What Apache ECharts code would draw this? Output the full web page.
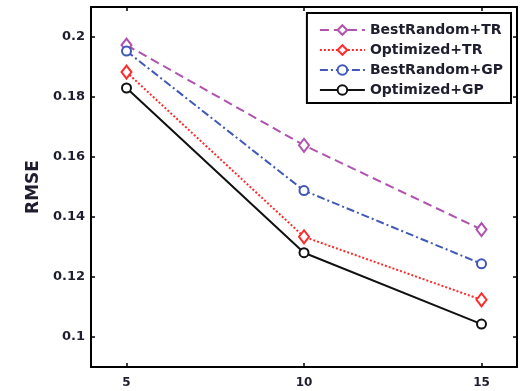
<!DOCTYPE html>
<html>
<head>
<meta charset="utf-8">
<script src="https://cdn.jsdelivr.net/npm/echarts@6/dist/echarts.min.js"></script>
<style>
html,body{margin:0;padding:0;background:#fff;}
#main{width:526px;height:391px;}
</style>
</head>
<body>
<div id="main"></div>
<script>
var xValues = [5, 10, 15];
var bestRandomTR = [0.1973, 0.1639, 0.1358];
var optimizedTR = [0.1883, 0.1334, 0.1124];
var bestRandomGP = [0.1953, 0.1488, 0.1244];
var optimizedGP = [0.1830, 0.1281, 0.1043];
var yTicks = [0.1, 0.12, 0.14, 0.16, 0.18, 0.2];

function pairs(vals) {
    return vals.map(function (v, i) { return [xValues[i], v]; });
}

var myChart = echarts.init(document.getElementById('main'));
var font = 'DejaVu Sans, sans-serif';
var frameLine = {show: true, onZero: false, lineStyle: {color: '#000', width: 2}};
var tick = {show: true, inside: true, length: 4, lineStyle: {color: '#000', width: 1.5}};

var option = {
    animation: false,
    grid: {left: 91, right: 9, top: 7, bottom: 24, containLabel: false},
    xAxis: [{
        type: 'value', min: 4, max: 16,
        axisLine: frameLine,
        axisTick: Object.assign({customValues: xValues}, tick),
        splitLine: {show: false},
        axisLabel: {customValues: xValues, margin: 10, color: '#1e1e2e', fontFamily: font, fontWeight: 'bold', fontSize: 12}
    }, {
        type: 'value', min: 4, max: 16, position: 'top',
        axisLine: frameLine,
        axisTick: Object.assign({customValues: xValues}, tick),
        splitLine: {show: false},
        axisLabel: {show: false}
    }],
    yAxis: [{
        type: 'value', min: 0.09, max: 0.21,
        name: 'RMSE', nameLocation: 'middle', nameGap: 49,
        nameTextStyle: {color: '#1e1e2e', fontFamily: font, fontWeight: 'bold', fontSize: 17},
        axisLine: frameLine,
        axisTick: Object.assign({customValues: yTicks}, tick),
        splitLine: {show: false},
        axisLabel: {customValues: yTicks, margin: 6, color: '#1e1e2e', fontFamily: font, fontWeight: 'bold', fontSize: 13,
            formatter: function (v) { return String(+v.toFixed(2)); }}
    }, {
        type: 'value', min: 0.09, max: 0.21, position: 'right',
        axisLine: frameLine,
        axisTick: Object.assign({customValues: yTicks}, tick),
        splitLine: {show: false},
        axisLabel: {show: false}
    }],
    legend: {
        orient: 'vertical', right: 15, top: 13,
        padding: [10, 8, 6, 12],
        itemWidth: 45, itemHeight: 12, itemGap: 6,
        backgroundColor: '#fff', borderColor: '#000', borderWidth: 2,
        textStyle: {color: '#1e1e2e', fontFamily: font, fontWeight: 'bold', fontSize: 14},
        data: ['BestRandom+TR', 'Optimized+TR', 'BestRandom+GP', 'Optimized+GP']
    },
    series: [{
        name: 'BestRandom+TR', type: 'line', data: pairs(bestRandomTR),
        symbol: 'emptyDiamond', symbolSize: [10, 13],
        lineStyle: {color: '#b052b0', width: 2, type: [9, 5]},
        itemStyle: {color: '#b052b0', borderWidth: 1.5}
    }, {
        name: 'Optimized+TR', type: 'line', data: pairs(optimizedTR),
        symbol: 'emptyDiamond', symbolSize: [10, 13],
        lineStyle: {color: '#ff2a2a', width: 2, type: [2, 2]},
        itemStyle: {color: '#ff2a2a', borderWidth: 1.5}
    }, {
        name: 'BestRandom+GP', type: 'line', data: pairs(bestRandomGP),
        symbol: 'emptyCircle', symbolSize: 9,
        lineStyle: {color: '#4058b8', width: 2, type: [8, 3, 2, 3]},
        itemStyle: {color: '#4058b8', borderWidth: 1.5}
    }, {
        name: 'Optimized+GP', type: 'line', data: pairs(optimizedGP),
        symbol: 'emptyCircle', symbolSize: 9,
        lineStyle: {color: '#111', width: 2, type: 'solid'},
        itemStyle: {color: '#111', borderWidth: 1.5}
    }]
};
myChart.setOption(option);
</script>
</body>
</html>
